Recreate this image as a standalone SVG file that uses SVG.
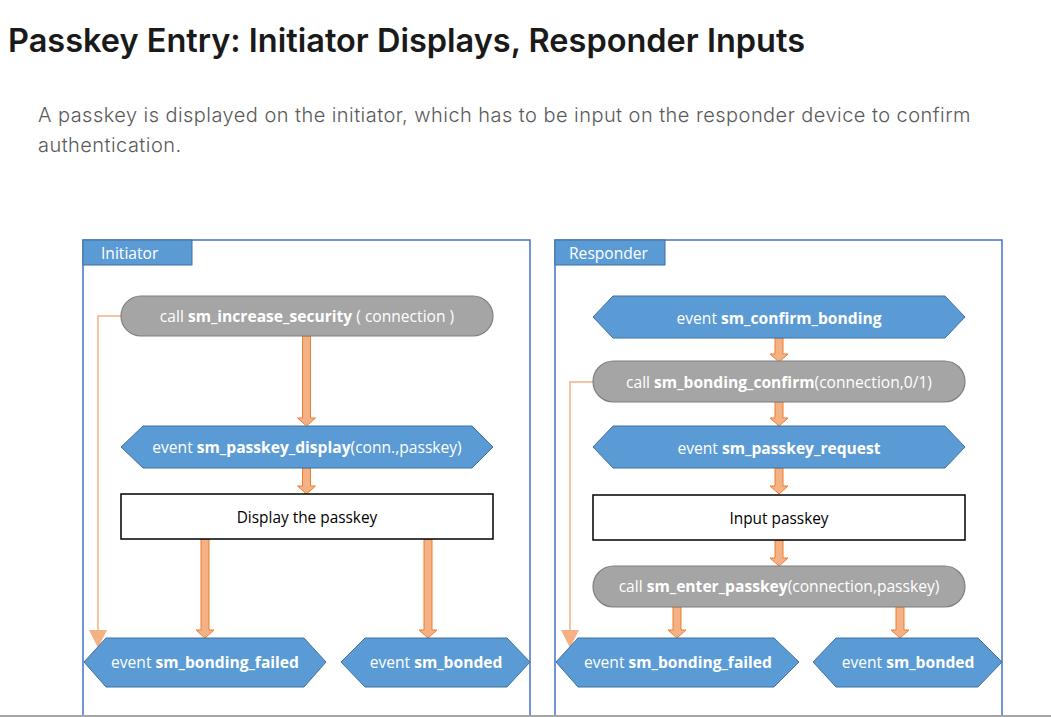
<svg xmlns="http://www.w3.org/2000/svg" width="1051" height="717" viewBox="0 0 1051 717">
<defs>
<style>
.title{font-family:Inter,"Liberation Sans",sans-serif;font-weight:600;font-size:32.5px;fill:#1a1a1a}
.desc{font-family:Inter,"Liberation Sans",sans-serif;font-weight:300;font-size:20px;letter-spacing:0.45px;fill:#5a5a5a}
.frame{fill:#fff;stroke:#4472C4;stroke-width:1.5}
.tab{fill:#5B9BD5;stroke:#41719C;stroke-width:1}
.tabt{font-family:"Open Sans","Liberation Sans",sans-serif;font-size:15.6px;fill:#fff}
.pill{fill:#A5A5A5;stroke:#7F7F7F;stroke-width:1.2}
.hex{fill:#5B9BD5;stroke:#41719C;stroke-width:1}
.box{fill:#fff;stroke:#000;stroke-width:1.5}
.t{font-family:"Open Sans","Liberation Sans",sans-serif;font-size:15.6px;fill:#fff;text-anchor:middle}
.tb{font-family:"Open Sans","Liberation Sans",sans-serif;font-size:15.4px;fill:#000;text-anchor:middle}
.b{font-weight:bold}
.arr{fill:#F4B183;stroke:#ED7D31;stroke-width:1}
.thin{fill:none;stroke:#F4B183;stroke-width:1.5}
.thinh{fill:#F4B183;stroke:none}
</style>
</defs>
<rect width="1051" height="717" fill="#fff"/>
<text class="title" x="8" y="52">Passkey Entry: Initiator Displays, Responder Inputs</text>
<text class="desc" x="38" y="122">A passkey is displayed on the initiator, which has to be input on the responder device to confirm</text>
<text class="desc" x="38" y="152">authentication.</text>

<g id="initiator-frame">
<rect class="frame" x="83" y="240" width="447" height="490"/>
<rect class="tab" x="83" y="240" width="109" height="25"/>
<text class="tabt" x="101" y="259">Initiator</text>
</g>
<g id="responder-frame">
<rect class="frame" x="555" y="240" width="447" height="490"/>
<rect class="tab" x="555" y="240" width="110" height="25"/>
<text class="tabt" x="569" y="259">Responder</text>
</g>

<g id="connectors">
<polygon class="arr" points="302.5,336 310.5,336 310.5,418 315.5,418 306.5,426 297.5,418 302.5,418"/>
<polygon class="arr" points="302.5,468 310.5,468 310.5,486 315.5,486 306.5,494 297.5,486 302.5,486"/>
<polygon class="arr" points="201,539 209,539 209,630 214,630 205,638 196,630 201,630"/>
<polygon class="arr" points="424,539 432,539 432,630 437,630 428,638 419,630 424,630"/>
<polyline class="thin" points="121,316 98,316 98,632"/>
<polygon class="thinh" points="89,630 107,630 98,648"/>

<polygon class="arr" points="775,338 783,338 783,354 788,354 779,362 770,354 775,354"/>
<polygon class="arr" points="775,402 783,402 783,418 788,418 779,426 770,418 775,418"/>
<polygon class="arr" points="775,468 783,468 783,486 788,486 779,494 770,486 775,486"/>
<polygon class="arr" points="775,540 783,540 783,558 788,558 779,566 770,558 775,558"/>
<polygon class="arr" points="673,607 681,607 681,630 686,630 677,638 668,630 673,630"/>
<polygon class="arr" points="896,607 904,607 904,630 909,630 900,638 891,630 896,630"/>
<polyline class="thin" points="593,382 570,382 570,632"/>
<polygon class="thinh" points="561,630 579,630 570,648"/>
</g>

<g id="i-call">
<rect class="pill" x="121" y="296" width="372" height="40" rx="20"/>
<text class="t" x="307" y="322">call <tspan class="b">sm_increase_security</tspan> ( connection )</text>
</g>
<g id="i-display-event">
<polygon class="hex" points="121,447 143,426 472,426 493,447 472,468 143,468"/>
<text class="t" x="307" y="453">event <tspan class="b">sm_passkey_display</tspan>(conn.,passkey)</text>
</g>
<g id="i-display-box">
<rect class="box" x="121" y="494" width="372" height="45"/>
<text class="tb" x="307" y="523">Display the passkey</text>
</g>
<g id="i-failed">
<polygon class="hex" points="84,662 106,638 304,638 326,662 304,687 106,687"/>
<text class="t" x="205" y="668">event <tspan class="b">sm_bonding_failed</tspan></text>
</g>
<g id="i-bonded">
<polygon class="hex" points="341,662 365,638 507,638 530,662 507,687 365,687"/>
<text class="t" x="436" y="668">event <tspan class="b">sm_bonded</tspan></text>
</g>

<g id="r-confirm-event">
<polygon class="hex" points="593,317 613,296 945,296 965,317 945,338 613,338"/>
<text class="t" x="779" y="324">event <tspan class="b">sm_confirm_bonding</tspan></text>
</g>
<g id="r-confirm-call">
<rect class="pill" x="593" y="361" width="372" height="41" rx="20.5"/>
<text class="t" x="779" y="388">call <tspan class="b">sm_bonding_confirm</tspan>(connection,0/1)</text>
</g>
<g id="r-request-event">
<polygon class="hex" points="593,447 613,426 945,426 965,447 945,468 613,468"/>
<text class="t" x="779" y="454">event <tspan class="b">sm_passkey_request</tspan></text>
</g>
<g id="r-input-box">
<rect class="box" x="593" y="495" width="372" height="45"/>
<text class="tb" x="779" y="524">Input passkey</text>
</g>
<g id="r-enter-call">
<rect class="pill" x="593" y="566" width="372" height="41" rx="20.5"/>
<text class="t" x="779" y="592">call <tspan class="b">sm_enter_passkey</tspan>(connection,passkey)</text>
</g>
<g id="r-failed">
<polygon class="hex" points="556,662 578,638 774,638 799,662 774,687 578,687"/>
<text class="t" x="678" y="668">event <tspan class="b">sm_bonding_failed</tspan></text>
</g>
<g id="r-bonded">
<polygon class="hex" points="813,662 836,638 978,638 1002,662 978,687 836,687"/>
<text class="t" x="908" y="668">event <tspan class="b">sm_bonded</tspan></text>
</g>

<rect x="0" y="715" width="1051" height="2" fill="#A6A6A6"/>
</svg>
